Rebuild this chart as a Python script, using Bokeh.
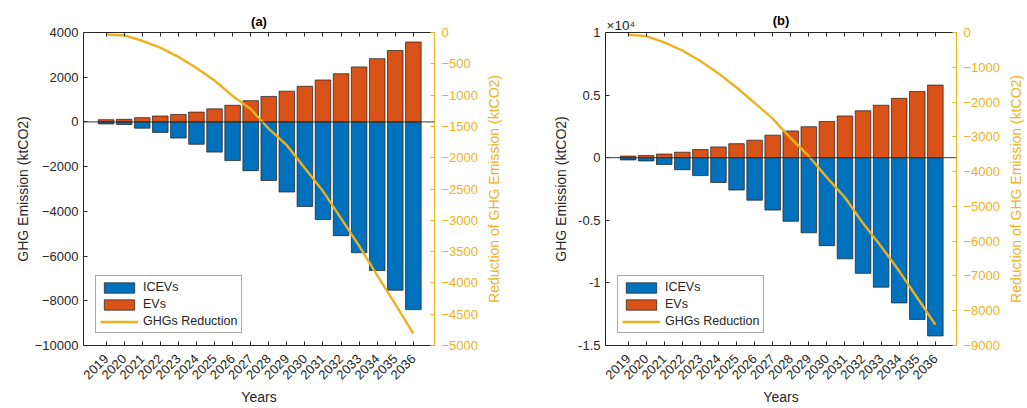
import math
from bokeh.plotting import figure
from bokeh.models import (Range1d, LinearAxis, FixedTicker, Span, Legend, LegendItem,
                          ColumnDataSource, CustomJSTickFormatter)
from bokeh.layouts import row
from bokeh.embed import file_html
from bokeh.resources import INLINE

years = list(range(2019, 2037))

# Panel (a)
ev_a = [100, 115, 190, 265, 335, 440, 585, 745, 950, 1140, 1375, 1595, 1875, 2155, 2460, 2830, 3195, 3575]
icev_a = [-90, -115, -280, -470, -720, -1000, -1350, -1730, -2180, -2620, -3135, -3780, -4367, -5088, -5852, -6646, -7528, -8395]
red_a = [-31, -47, -132, -242, -389, -567, -767, -1013, -1223, -1538, -1800, -2167, -2534, -2970, -3410, -3880, -4340, -4810]

# Panel (b)
ev_b = [130, 180, 290, 440, 650, 860, 1120, 1400, 1800, 2135, 2475, 2890, 3333, 3750, 4190, 4740, 5290, 5800]
icev_b = [-180, -260, -550, -960, -1430, -1980, -2580, -3396, -4185, -5079, -6000, -7025, -8077, -9237, -10340, -11600, -12918, -14237]
red_b = [-66, -104, -282, -518, -819, -1176, -1581, -2023, -2475, -3040, -3557, -4169, -4744, -5487, -6150, -6860, -7628, -8400]

BLUE = "#0072BD"
ORANGE = "#D95319"
YELLOW = "#EDB120"
DARK = "#262626"
FONT = "Liberation Sans"
H = 408
TOP = 32
BOTTOM = 58


def make_panel(title, ev, icev, red, yl, yticks, yr, yrticks, width, left, right,
               ylabel_standoff, overrides=None):
    src = ColumnDataSource(dict(year=years, ev=ev, icev=icev, red=red))
    p = figure(width=width, height=H, output_backend="svg", toolbar_location=None,
               x_range=Range1d(2017.75, 2037.17), y_range=Range1d(*yl),
               min_border_left=left, min_border_right=right, min_border_top=TOP,
               min_border_bottom=BOTTOM, title=title)
    p.title.align = "center"
    p.title.text_font = FONT
    p.title.text_font_size = "13px"
    p.title.text_font_style = "bold"
    p.title.text_color = "#000000"
    p.title.standoff = 7
    p.outline_line_color = None
    p.xgrid.visible = False
    p.ygrid.visible = False
    p.background_fill_color = "white"

    p.extra_y_ranges = {"r": Range1d(*yr)}

    r_ev = p.vbar(x="year", top="ev", bottom=0, width=0.86, source=src,
                  fill_color=ORANGE, line_color="#1a1a1a", line_width=0.7)
    r_ice = p.vbar(x="year", top=0, bottom="icev", width=0.86, source=src,
                   fill_color=BLUE, line_color="#1a1a1a", line_width=0.7)
    p.add_layout(Span(location=0, dimension="width", line_color="#3a3a3a", line_width=1))
    r_line = p.line(x="year", y="red", source=src, y_range_name="r",
                    line_color=YELLOW, line_width=2.4)

    # bottom axis
    xa = p.xaxis[0]
    xa.ticker = FixedTicker(ticks=years)
    xa.major_label_orientation = 0.785398
    xa.axis_label = "Years"
    xa.axis_label_text_font = FONT
    xa.axis_label_text_font_size = "14px"
    xa.axis_label_text_font_style = "normal"
    xa.axis_label_text_color = DARK
    xa.axis_label_standoff = 3
    xa.major_label_text_font = FONT
    xa.major_label_text_font_size = "13px"
    xa.major_label_text_color = DARK
    xa.major_label_standoff = 11
    xa.major_tick_in = 4
    xa.major_tick_out = 0
    xa.minor_tick_line_color = None
    xa.axis_line_color = DARK
    xa.major_tick_line_color = DARK

    # top axis (box ticks, no labels)
    ta = LinearAxis(ticker=FixedTicker(ticks=years), major_label_text_font_size="1px",
                    major_label_text_color=None,
                    major_tick_in=4, major_tick_out=0, minor_tick_line_color=None,
                    axis_line_color=DARK, major_tick_line_color=DARK,
                    major_label_standoff=0)
    p.add_layout(ta, "above")

    # left axis
    ya = p.yaxis[0]
    ya.ticker = FixedTicker(ticks=yticks)
    ya.axis_label = "GHG Emission (ktCO2)"
    ya.axis_label_text_font = FONT
    ya.axis_label_text_font_size = "14px"
    ya.axis_label_text_font_style = "normal"
    ya.axis_label_text_color = DARK
    ya.axis_label_standoff = ylabel_standoff
    ya.major_label_text_font = FONT
    ya.major_label_text_font_size = "13px"
    ya.major_label_text_color = DARK
    ya.major_label_standoff = 5
    ya.major_tick_in = 4
    ya.major_tick_out = 0
    ya.minor_tick_line_color = None
    ya.axis_line_color = DARK
    ya.major_tick_line_color = DARK
    if overrides:
        ya.major_label_overrides = overrides

    # right axis (its title is drawn by the strip beside it)
    ra = LinearAxis(y_range_name="r", ticker=FixedTicker(ticks=yrticks))
    ra.major_label_text_font = FONT
    ra.major_label_text_font_size = "13px"
    ra.major_label_text_color = YELLOW
    ra.major_label_standoff = 7
    ra.major_tick_in = 4
    ra.major_tick_out = 0
    ra.minor_tick_line_color = None
    ra.axis_line_color = YELLOW
    ra.major_tick_line_color = YELLOW
    p.add_layout(ra, "right")

    legend = Legend(items=[LegendItem(label="ICEVs", renderers=[r_ice]),
                           LegendItem(label="EVs", renderers=[r_ev]),
                           LegendItem(label="GHGs Reduction", renderers=[r_line])],
                    location="bottom_left")
    legend.margin = 12
    legend.padding = 4
    legend.spacing = 3
    legend.glyph_width = 38
    legend.glyph_height = 13
    legend.label_height = 13
    legend.label_standoff = 5
    legend.label_text_font = FONT
    legend.label_text_font_size = "12.5px"
    legend.label_text_color = DARK
    legend.border_line_color = "#555555"
    legend.border_line_width = 0.8
    legend.background_fill_alpha = 1.0
    p.add_layout(legend)
    return p


def label_strip(text, width):
    # a narrow strip whose left-axis title reads bottom-to-top, like the right axis title
    s = figure(width=width, height=H, output_backend="svg", toolbar_location=None,
               x_range=Range1d(0, 1), y_range=Range1d(0, 1),
               min_border_left=width - 1, min_border_right=0, min_border_top=TOP,
               min_border_bottom=BOTTOM)
    s.outline_line_color = None
    s.xgrid.visible = False
    s.ygrid.visible = False
    s.xaxis.visible = False
    ax = s.yaxis[0]
    ax.ticker = FixedTicker(ticks=[])
    ax.axis_line_color = None
    ax.major_tick_line_color = None
    ax.minor_tick_line_color = None
    ax.axis_label = text
    ax.axis_label_text_font = FONT
    ax.axis_label_text_font_size = "14px"
    ax.axis_label_text_font_style = "normal"
    ax.axis_label_text_color = YELLOW
    ax.axis_label_standoff = 0
    return s


pa = make_panel("(a)", ev_a, icev_a, red_a, (-10000, 4000), list(range(-10000, 4001, 2000)),
                (-5000, 0), list(range(-5000, 1, 500)), 481, 83, 45, 1)
la = label_strip("Reduction of GHG Emission (ktCO2)", 21)

b_ticks = [-15000, -10000, -5000, 0, 5000, 10000]
b_over = {-15000: "-1.5", -10000: "-1", -5000: "-0.5", 0: "0", 5000: "0.5", 10000: "1"}
pb = make_panel("(b)", ev_b, icev_b, red_b, (-15000, 10000), b_ticks,
                (-9000, 0), list(range(-9000, 1, 1000)), 501, 103, 45, 6, overrides=b_over)
# exponent marker above the left axis of panel (b)
xa2 = LinearAxis(ticker=FixedTicker(ticks=[2018.6]),
                 formatter=CustomJSTickFormatter(code="return '\u00d710\u2074'"),
                 axis_line_color=None, major_tick_line_color=None, minor_tick_line_color=None,
                 major_tick_in=0, major_tick_out=0, major_label_standoff=0,
                 major_label_text_font=FONT, major_label_text_font_size="13.5px",
                 major_label_text_color=DARK)
pb.add_layout(xa2, "above")
try:
    pb.title.standoff = -27
except Exception:
    pb.title.standoff = 0
lb = label_strip("Reduction of GHG Emission (ktCO2)", 21)

layout = row(pa, la, pb, lb)
open("out.html", "w").write(file_html(layout, INLINE))
